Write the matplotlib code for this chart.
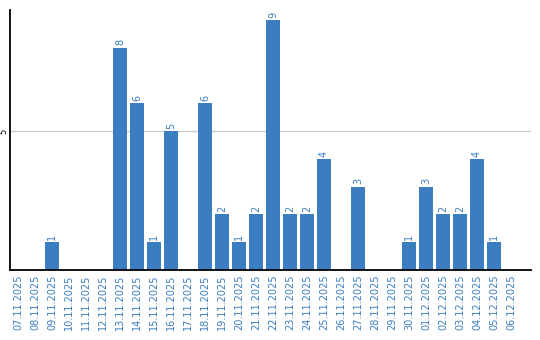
import matplotlib
matplotlib.use("Agg")
import matplotlib.pyplot as plt
import numpy as np

# daily counts
dates = ["07.11.2025", "08.11.2025", "09.11.2025", "10.11.2025", "11.11.2025",
         "12.11.2025", "13.11.2025", "14.11.2025", "15.11.2025", "16.11.2025",
         "17.11.2025", "18.11.2025", "19.11.2025", "20.11.2025", "21.11.2025",
         "22.11.2025", "23.11.2025", "24.11.2025", "25.11.2025", "26.11.2025",
         "27.11.2025", "28.11.2025", "29.11.2025", "30.11.2025", "01.12.2025",
         "02.12.2025", "03.12.2025", "04.12.2025", "05.12.2025", "06.12.2025"]
counts = [0, 0, 1, 0, 0, 0, 8, 6, 1, 5,
          0, 6, 2, 1, 2, 9, 2, 2, 4, 0,
          3, 0, 0, 1, 3, 2, 2, 4, 1, 0]

blue = '#3a7dc1'

fig = plt.figure(figsize=(5.4, 3.4), dpi=100)
ax = fig.add_axes([0.0185, 0.206, 0.965, 0.764])

x = np.arange(len(dates))
ax.bar(x, counts, width=0.82, color=blue, zorder=2)
ax.axhline(5, color='#cccccc', lw=1, zorder=1)

for xi, c in zip(x, counts):
    if c > 0:
        ax.text(xi, c + 0.08, str(c), rotation=90, ha='center', va='bottom',
                color=blue, fontsize=7)

ax.set_xlim(-0.47, 30.18)
ax.set_ylim(0, 9.35)
ax.set_xticks(x)
ax.set_xticklabels(dates, rotation=90, color=blue, fontsize=7)
ax.set_yticks([5])
ax.set_yticklabels(['5'], rotation=90, fontsize=6, va='center')
ax.tick_params(axis='x', length=0, pad=3)
ax.tick_params(axis='y', length=0, pad=1)

for s in ['top', 'right']:
    ax.spines[s].set_visible(False)
ax.spines['left'].set_linewidth(1.3)
ax.spines['bottom'].set_linewidth(1.3)

plt.savefig("out.png", dpi=100)
